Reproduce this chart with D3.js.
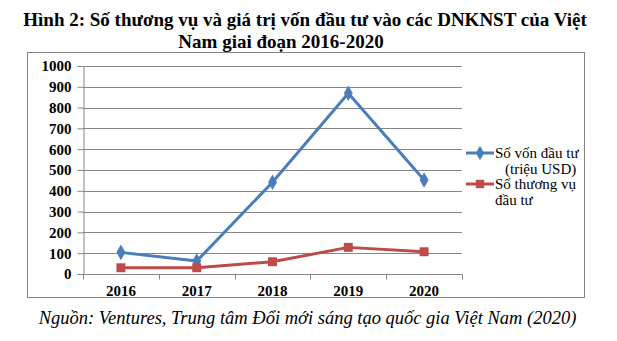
<!DOCTYPE html>
<html>
<head>
<meta charset="utf-8">
<script src="https://cdn.jsdelivr.net/npm/d3@7"></script>
<style>
  html, body { margin: 0; padding: 0; background: #fff; }
  svg { display: block; }
</style>
</head>
<body>
<svg id="chart" width="617" height="341"></svg>
<script>
// Data
const years = ["2016", "2017", "2018", "2019", "2020"];
const capital = [104, 62, 441, 869, 452];      // Số vốn đầu tư (triệu USD)
const deals = [30, 30, 59, 128, 107];          // Số thương vụ đầu tư
const yTicks = [0, 100, 200, 300, 400, 500, 600, 700, 800, 900, 1000];
const titleLines = ["Hình 2: Số thương vụ và giá trị vốn đầu tư vào các DNKNST của Việt", "Nam giai đoạn 2016-2020"];
const sourceNote = "Nguồn: Ventures, Trung tâm Đổi mới sáng tạo quốc gia Việt Nam (2020)";

const FONT = "'Liberation Serif', 'Times New Roman', Tinos, serif";
const svg = d3.select("#chart").style("font-family", FONT);
const T = sel => sel.style("font-family", FONT).attr("fill", "#000");

// Title
T(svg.append("text")).attr("x", 305).attr("y", 26).attr("text-anchor", "middle")
  .attr("font-size", 19).attr("font-weight", "bold").text(titleLines[0]);
T(svg.append("text")).attr("x", 281).attr("y", 48).attr("text-anchor", "middle")
  .attr("font-size", 19).attr("font-weight", "bold").text(titleLines[1]);

// Chart frame
svg.append("rect").attr("x", 27.5).attr("y", 52.5).attr("width", 557).attr("height", 245)
  .attr("fill", "none").attr("stroke", "#868686").attr("stroke-width", 1);

const plot = { left: 83, right: 462, top: 66, bottom: 274 };

const x = d3.scaleBand().domain(years).range([plot.left, plot.right]);
const y = d3.scaleLinear().domain([0, 1000]).range([plot.bottom, plot.top]);

// Gridlines
svg.append("g").selectAll("line").data(yTicks.filter(d => d > 0)).join("line")
  .attr("x1", plot.left).attr("x2", plot.right)
  .attr("y1", d => Math.round(y(d)) + 0.5).attr("y2", d => Math.round(y(d)) + 0.5)
  .attr("stroke", "#868686").attr("stroke-width", 1);

// Y axis
const yAxis = svg.append("g").attr("transform", `translate(${plot.left + 0.5},0)`)
  .call(d3.axisLeft(y).tickValues(yTicks).tickFormat(d3.format("d")).tickSize(6).tickPadding(6));
yAxis.attr("font-family", null);
yAxis.select(".domain").attr("stroke", "#868686");
yAxis.selectAll(".tick line").attr("stroke", "#868686");
T(yAxis.selectAll("text")).attr("font-size", 15).attr("font-weight", "bold");

// X axis with ticks at band boundaries
const xAxis = svg.append("g").attr("transform", `translate(0,${plot.bottom + 0.5})`);
xAxis.append("line").attr("x1", plot.left).attr("x2", plot.right)
  .attr("stroke", "#868686");
const bounds = years.map(d => x(d)).concat([plot.right]);
xAxis.selectAll(".bt").data(bounds).join("line").attr("class", "bt")
  .attr("x1", d => Math.round(d) + 0.5).attr("x2", d => Math.round(d) + 0.5)
  .attr("y1", 0).attr("y2", 5).attr("stroke", "#868686");
T(xAxis.selectAll("text").data(years).join("text"))
  .attr("x", d => x(d) + x.bandwidth() / 2).attr("y", 21)
  .attr("text-anchor", "middle").attr("font-size", 15).attr("font-weight", "bold")
  .text(d => d);

const cx = d => x(d) + x.bandwidth() / 2;
const blue = "#4A7EBB", red = "#BE4B48";

function drawSeries(values, color, shape, size) {
  const line = d3.line().x((v, i) => cx(years[i])).y(v => y(v));
  svg.append("path").datum(values).attr("d", line)
    .attr("fill", "none").attr("stroke", color).attr("stroke-width", 3)
    .attr("stroke-linejoin", "round");
  svg.append("g").selectAll("path").data(values).join("path")
    .attr("transform", (v, i) => `translate(${cx(years[i])},${y(v)})`)
    .attr("d", d3.symbol().type(shape).size(size))
    .attr("fill", color);
}
drawSeries(capital, blue, d3.symbolDiamond, 70);
drawSeries(deals, red, d3.symbolSquare, 80);

// Legend
const lg = svg.append("g");
lg.append("line").attr("x1", 466).attr("x2", 494).attr("y1", 153).attr("y2", 153)
  .attr("stroke", blue).attr("stroke-width", 3);
lg.append("path").attr("transform", "translate(480,153)")
  .attr("d", d3.symbol().type(d3.symbolDiamond).size(60)).attr("fill", blue);
T(lg.append("text")).attr("x", 495).attr("y", 158).attr("font-size", 15).text("Số vốn đầu tư");
T(lg.append("text")).attr("x", 505).attr("y", 174).attr("font-size", 15).text("(triệu USD)");

lg.append("line").attr("x1", 466).attr("x2", 494).attr("y1", 184).attr("y2", 184)
  .attr("stroke", red).attr("stroke-width", 3);
lg.append("path").attr("transform", "translate(480,184)")
  .attr("d", d3.symbol().type(d3.symbolSquare).size(70)).attr("fill", red);
T(lg.append("text")).attr("x", 495).attr("y", 189).attr("font-size", 15).text("Số thương vụ");
T(lg.append("text")).attr("x", 495).attr("y", 205).attr("font-size", 15).text("đầu tư");

// Source note
T(svg.append("text")).attr("x", 307.5).attr("y", 324).attr("text-anchor", "middle")
  .attr("font-size", 18.5).attr("font-style", "italic").text(sourceNote);
</script>
</body>
</html>
